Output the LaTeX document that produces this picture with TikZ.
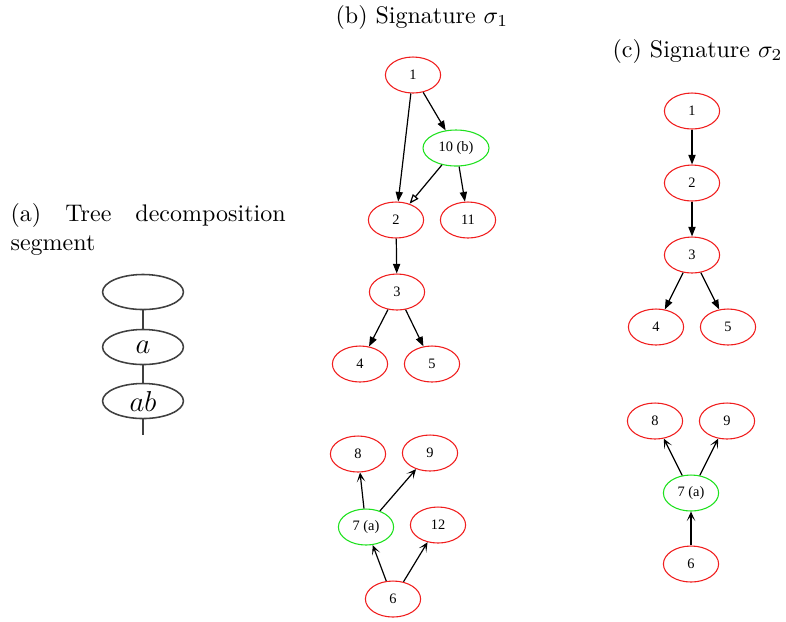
\documentclass[tikz,border=0pt]{standalone}
\usepackage{fontspec}
\usetikzlibrary{shapes.geometric,arrows.meta}
\newfontfamily\dotfont{Liberation Serif}
\definecolor{dotred}{RGB}{240,30,30}
\definecolor{dotgreen}{RGB}{30,225,30}
\tikzset{
  vtx/.style={ellipse,draw=dotred,line width=0.45pt,minimum width=23pt,minimum height=15pt,inner sep=0pt,font=\dotfont\fontsize{6}{7}\selectfont},
  sel/.style={vtx,draw=dotgreen},
  bag/.style={ellipse,draw=black!75,line width=0.65pt,minimum width=33.7pt,minimum height=14.6pt,inner sep=0pt,font=\large},
  captxt/.style={inner sep=0pt,anchor=base west},
  vee/.style={-{Stealth[length=4pt,width=3.6pt,inset=2.2pt]}},
}
\begin{document}
\begin{tikzpicture}[>={Triangle[length=4pt,width=3pt]},x=0.4167pt,y=-0.4167pt,line width=0.5pt]
    \useasboundingbox (0,0) rectangle (786,621);
    % (a) the bags of the decomposition
    \node[inner sep=0pt,anchor=north west,text width=114.6pt,align=justify] (capa) at (10,203) {(a) Tree decomposition segment};
    \node[bag] (t0) at (143,292) {};
    \node[bag] (t1) at (143,347) {$a$};
    \node[bag] (t2) at (143,401) {$ab$};
    \coordinate (tend) at (143,435);
    \draw[black!75,line width=0.65pt] (t0)--(t1) (t1)--(t2) (t2.south)--(tend);
    % (b) first signature
    \node[captxt] (capb) at (335,23) {(b) Signature $\sigma_1$};
    \node[vtx] (b1) at (413,75) {1};
    \node[sel,minimum width=27.5pt] (b10) at (456,148) {10 (b)};
    \node[vtx] (b2) at (396,220) {2};
    \node[vtx] (b11) at (468,220) {11};
    \node[vtx] (b3) at (397,292) {3};
    \node[vtx] (b4) at (360,364) {4};
    \node[vtx] (b5) at (432,364) {5};
    \foreach \a/\b in {b1/b2,b1/b10,b10/b11,b2/b3,b3/b4,b3/b5}
        \draw[->] (\a)--(\b);
    \draw[-{Triangle[open,length=4pt,width=3pt]}] (b10)--(b2);
    \node[vtx] (b8) at (358,454) {8};
    \node[vtx] (b9) at (430,453) {9};
    \node[sel] (b7) at (366,527) {7 (a)};
    \node[vtx] (b12) at (438,525) {12};
    \node[vtx] (b6) at (393,599) {6};
    \foreach \a/\b in {b7/b8,b7/b9,b6/b7,b6/b12}
        \draw[vee] (\a)--(\b);
    % (c) second signature
    \node[captxt] (capc) at (612,57) {(c) Signature $\sigma_2$};
    \node[vtx] (c1) at (692,111) {1};
    \node[vtx] (c2) at (692,183) {2};
    \node[vtx] (c3) at (692,255) {3};
    \node[vtx] (c4) at (656,327) {4};
    \node[vtx] (c5) at (728,327) {5};
    \foreach \a/\b in {c1/c2,c2/c3,c3/c4,c3/c5}
        \draw[->] (\a)--(\b);
    \node[vtx] (c8) at (655,421) {8};
    \node[vtx] (c9) at (727,421) {9};
    \node[sel] (c7) at (691,493) {7 (a)};
    \node[vtx] (c6) at (691,564) {6};
    \foreach \a/\b in {c7/c8,c7/c9,c6/c7}
        \draw[vee] (\a)--(\b);
\end{tikzpicture}
\end{document}
